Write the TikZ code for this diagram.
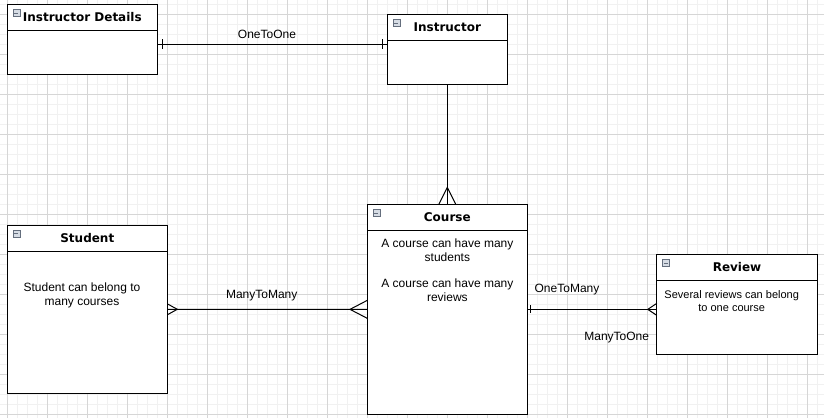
\documentclass[tikz,border=0pt]{standalone}
\usepackage{fontspec}
\setmainfont{Liberation Sans}
\newfontfamily\headfont{DejaVu Sans}

\definecolor{gridMinor}{RGB}{241,241,241}
\definecolor{gridMajor}{RGB}{214,214,214}
\definecolor{iconFill}{RGB}{214,220,228}
\definecolor{iconLine}{RGB}{100,110,125}

\tikzset{
  entity/.style={draw, line width=1pt, fill=white, anchor=north west,
    inner sep=0pt, outer sep=0pt},
  headline/.style={line width=1pt},
  head/.style={font=\headfont\bfseries\fontsize{12}{14}\selectfont,
    inner sep=0pt, anchor=base},
  body/.style={font=\fontsize{12}{13.8}\selectfont, align=center, inner sep=0pt},
  rel/.style={font=\fontsize{12}{14}\selectfont, inner sep=0pt, anchor=base},
  icon/.style={draw=iconLine, fill=iconFill, line width=0.6pt, minimum size=7pt,
    inner sep=0pt,
    path picture={\draw[iconLine, line width=0.8pt]
      ([xshift=1.6pt]path picture bounding box.west) --
      ([xshift=-1.6pt]path picture bounding box.east);}},
  conn/.style={line width=1pt}
}

\begin{document}
\begin{tikzpicture}[x=1pt, y=-1pt]
  \useasboundingbox (0,0) rectangle (824,418);
  \fill[white] (0,0) rectangle (824,418);
  % Grid
  \foreach \x in {7.3,17.3,...,824} \draw[gridMinor, line width=1pt] (\x,0) -- (\x,418);
  \foreach \y in {4.3,14.3,...,418} \draw[gridMinor, line width=1pt] (0,\y) -- (824,\y);
  \foreach \x in {7.3,47.3,...,824} \draw[gridMajor, line width=0.6pt] (\x,0) -- (\x,418);
  \foreach \y in {14.3,54.3,...,418} \draw[gridMajor, line width=0.6pt] (0,\y) -- (824,\y);

  % Entities
  \node[entity, minimum width=150pt, minimum height=69.3pt] (details) at (7.3,4.7) {};
  \draw[headline] ([yshift=-26pt]details.north west) -- ([yshift=-26pt]details.north east);
  \node[icon] at ([xshift=9pt,yshift=-8.3pt]details.north west) {};
  \node[head] at ([yshift=-16.7pt]details.north) {Instructor Details};

  \node[entity, minimum width=120pt, minimum height=69.3pt] (instructor) at (387.3,14.7) {};
  \draw[headline] ([yshift=-26pt]instructor.north west) -- ([yshift=-26pt]instructor.north east);
  \node[icon] at ([xshift=9pt,yshift=-8.3pt]instructor.north west) {};
  \node[head] at ([yshift=-16.7pt]instructor.north) {Instructor};

  \node[entity, minimum width=160pt, minimum height=209.3pt] (course) at (367.3,204.7) {};
  \draw[headline] ([yshift=-26pt]course.north west) -- ([yshift=-26pt]course.north east);
  \node[icon] at ([xshift=9pt,yshift=-8.3pt]course.north west) {};
  \node[head] at ([yshift=-16.7pt]course.north) {Course};
  \node[body] (courseA) at (447.4,250.5) {A course can have many\\students};
  \node[body] (courseB) at (447.4,290.6) {A course can have many\\reviews};

  \node[entity, minimum width=160pt, minimum height=168pt] (student) at (7.3,225.3) {};
  \draw[headline] ([yshift=-26.4pt]student.north west) -- ([yshift=-26.4pt]student.north east);
  \node[icon] at ([xshift=9pt,yshift=-8.3pt]student.north west) {};
  \node[head] at ([yshift=-16.9pt]student.north) {Student};
  \node[body] (studentA) at (82,295.1) {Student can belong to\\many courses};

  \node[entity, minimum width=160.5pt, minimum height=99.6pt] (review) at (656.8,254.7) {};
  \draw[headline] ([yshift=-26pt]review.north west) -- ([yshift=-26pt]review.north east);
  \node[icon] at ([xshift=9pt,yshift=-8.3pt]review.north west) {};
  \node[head] at ([yshift=-16.7pt]review.north) {Review};
  \node[body, font=\fontsize{11}{13}\selectfont] (reviewA) at (731.7,300.8)
    {Several reviews can belong\\to one course};

  % Instructor Details -- Instructor
  \coordinate (oneA) at ([yshift=-5pt]details.east);
  \coordinate (oneB) at ([yshift=5pt]instructor.west);
  \draw[conn] (oneA) -- (oneB);
  \draw[conn] ([xshift=4.7pt,yshift=5pt]oneA) -- ([xshift=4.7pt,yshift=-5pt]oneA);
  \draw[conn] ([xshift=-5.3pt,yshift=5pt]oneB) -- ([xshift=-5.3pt,yshift=-5pt]oneB);
  \node[rel] (oneLbl) at (267,38) {OneToOne};

  % Instructor -- Course
  \draw[conn] (instructor.south) -- (course.north);
  \draw[conn] ([xshift=-8.7pt]course.north) -- ([yshift=17.4pt]course.north)
    -- ([xshift=8.7pt]course.north);

  % Student -- Course
  \draw[conn] (student.east) -- (course.west);
  \draw[conn] ([yshift=5.5pt]student.east) -- ([xshift=10pt]student.east)
    -- ([yshift=-5.5pt]student.east);
  \draw[conn] ([yshift=9pt]course.west) -- ([xshift=-17.3pt]course.west)
    -- ([yshift=-9pt]course.west);
  \node[rel] (manyLbl) at (261.7,298.6) {ManyToMany};

  % Course -- Review
  \coordinate (revIn) at (course.east -| review.west);
  \draw[conn] (course.east) -- (revIn);
  \draw[conn] ([xshift=3.4pt,yshift=4pt]course.east) -- ([xshift=3.4pt,yshift=-4pt]course.east);
  \draw[conn] ([yshift=6pt]revIn) -- ([xshift=-9pt]revIn) -- ([yshift=-6pt]revIn);
  \node[rel] (o2mLbl) at (567,292.6) {OneToMany};
  \node[rel] (m2oLbl) at (616.7,340.3) {ManyToOne};
\end{tikzpicture}
\end{document}
